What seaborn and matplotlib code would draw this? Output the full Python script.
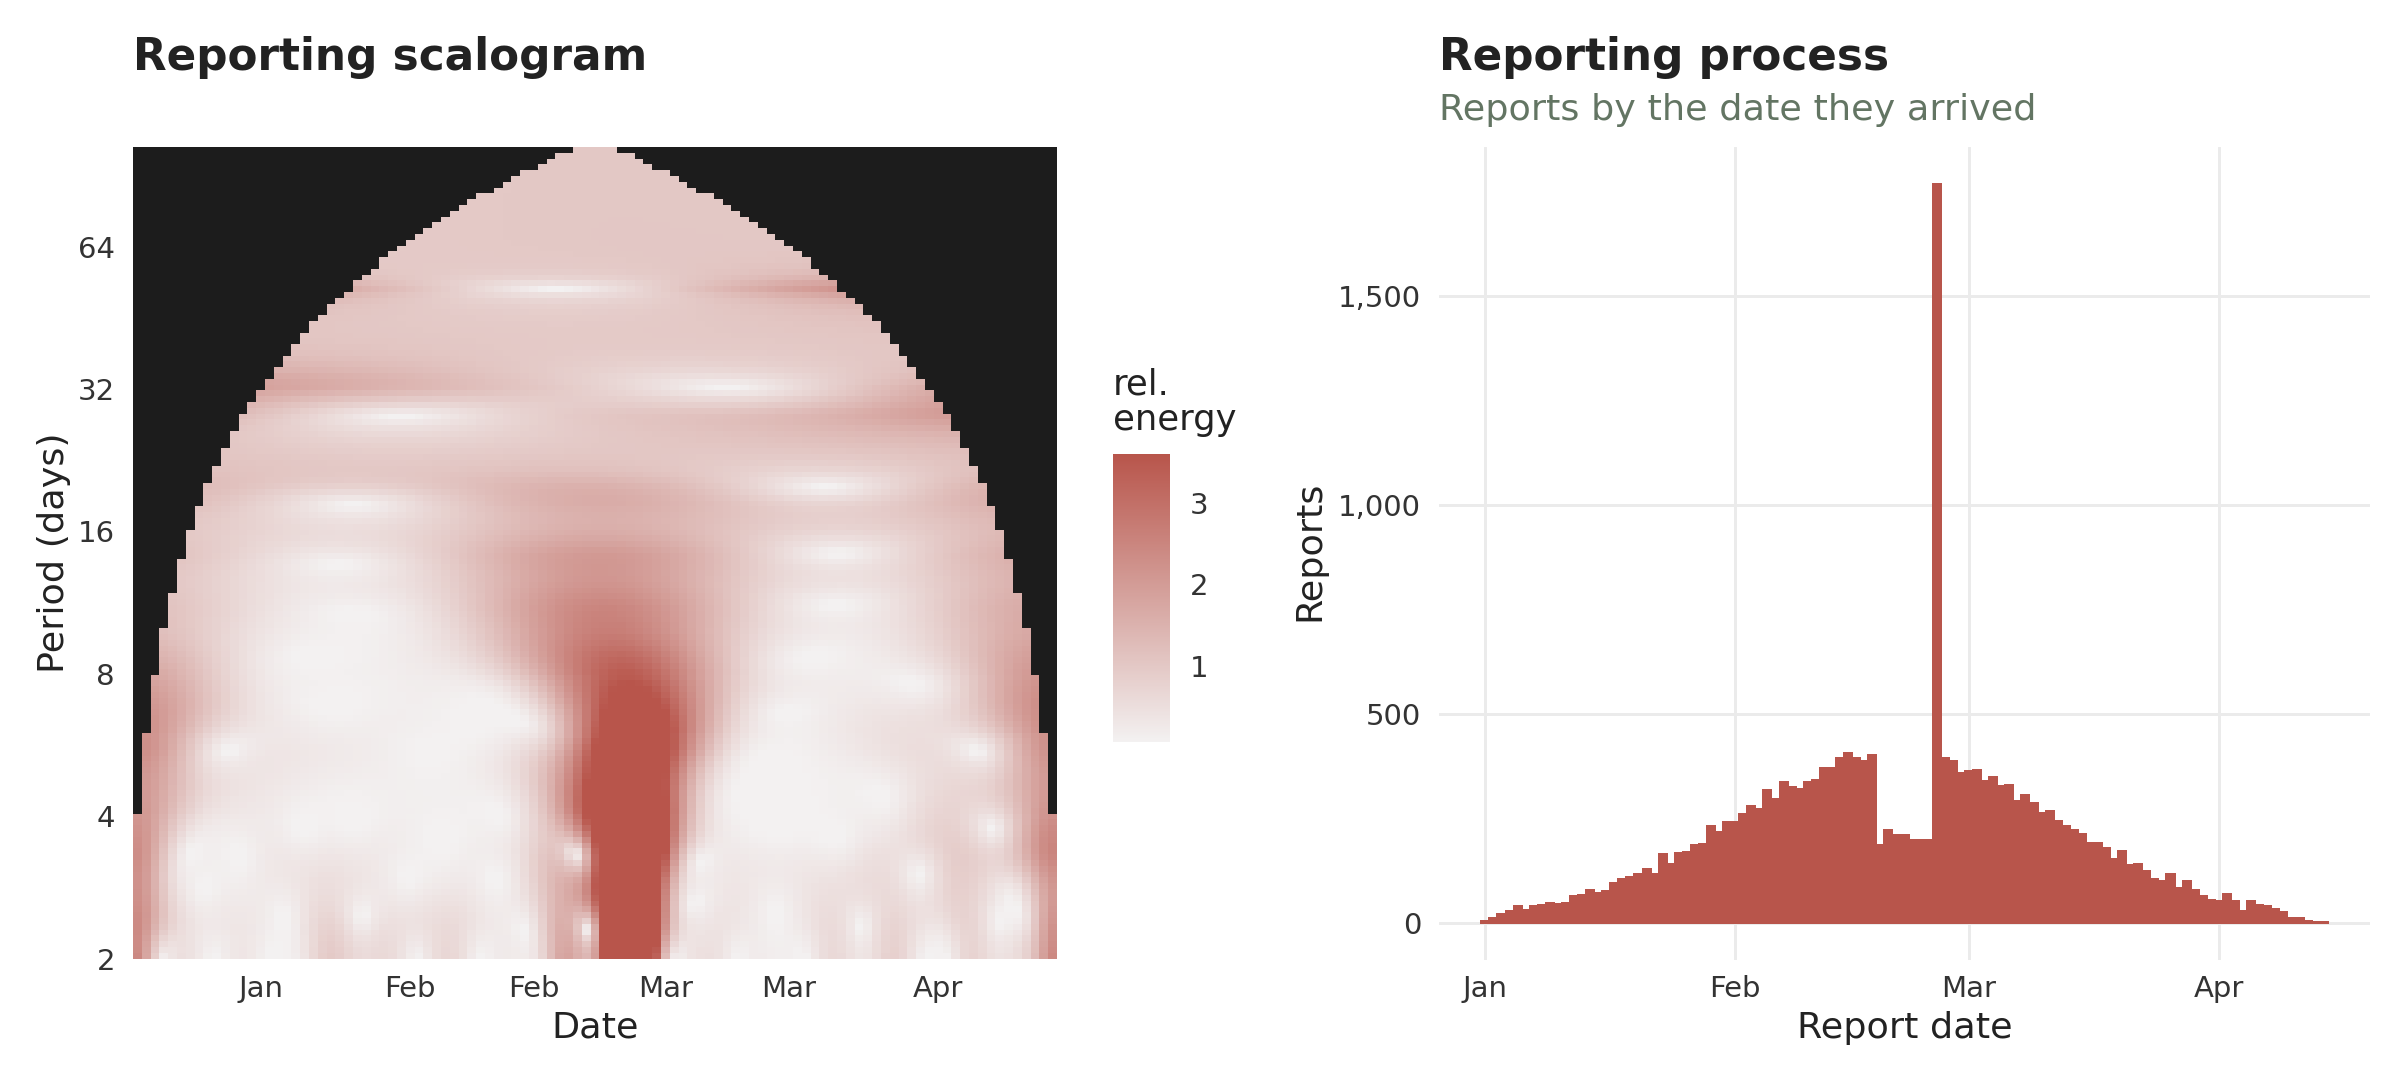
import numpy as np
import pandas as pd
import matplotlib
matplotlib.use('Agg')
import matplotlib.pyplot as plt
import seaborn as sns

# daily reports by arrival date, 2020-01-01 .. 2020-04-14
start_date = '2020-01-01'
reports = [4, 12, 22, 29, 41, 31, 41, 43, 48, 46,
           48, 65, 67, 79, 72, 77, 96, 106, 110, 118,
           130, 118, 166, 142, 168, 170, 187, 190, 233, 218,
           242, 242, 262, 281, 274, 319, 298, 338, 326, 322,
           338, 343, 370, 370, 396, 408, 396, 389, 403, 187,
           223, 211, 211, 199, 199, 199, 1769, 394, 389, 360,
           365, 367, 341, 350, 329, 331, 293, 307, 288, 264,
           269, 245, 233, 223, 214, 192, 192, 180, 154, 173,
           139, 142, 125, 106, 101, 118, 84, 101, 79, 65,
           55, 53, 70, 53, 29, 53, 43, 41, 34, 26,
           12, 12, 5, 2, 2]

scalogram_ticks = ['2020-01-15', '2020-02-01', '2020-02-15', '2020-03-01', '2020-03-15', '2020-04-01']
report_ticks = ['2020-01-01', '2020-02-01', '2020-03-01', '2020-04-01']
period_ticks = [2, 4, 8, 16, 32, 64]
count_ticks = [0, 500, 1000, 1500]
energy_ticks = [1, 2, 3]
energy_limits = (0.07, 3.6)

RED = '#b8554b'
DARK = '#1c1c1c'

dates = pd.date_range(start_date, periods=len(reports))
day = np.arange(len(reports))
N = len(reports)

# ---- scalogram: Morlet CWT of sqrt(reports), amplitude relative to each period's mean
p_min, p_max, n_rows = 2.0, 104.0, 140
w0 = 6.0
step = (np.log2(p_max) - np.log2(p_min)) / n_rows
log_p = np.log2(p_max) - (np.arange(n_rows) + 0.5) * step
periods = 2 ** log_p

x = np.sqrt(np.array(reports, float))
x = (x - x.mean()) / x.std()
amp = np.zeros((n_rows, N))
for i, p in enumerate(periods):
    s = p * (w0 + np.sqrt(2 + w0 ** 2)) / (4 * np.pi)
    u = (day[None, :] - day[:, None]) / s
    psi = np.exp(1j * w0 * u) * np.exp(-u ** 2 / 2) / np.sqrt(s)
    amp[i] = np.abs(psi @ x)

# cone of influence: periods longer than 2 * (days to edge + 2) are blacked out
edge_dist = np.minimum(day, N - 1 - day)
coi = 2 * (edge_dist + 2)
outside = periods[:, None] > coi[None, :]
amp[outside] = np.nan
rel_energy = amp / np.nanmean(amp, axis=1, keepdims=True)

sns.set_style('white')
plt.rcParams['font.family'] = ['DejaVu Sans']
plt.rcParams['text.color'] = '#222222'

fig = plt.figure(figsize=(16, 7.2), dpi=150)
W, H = 2400, 1080
ax_heat = fig.add_axes([133 / W, (H - 958.6) / H, 924 / W, 811.6 / H])
cax = fig.add_axes([1112.7 / W, (H - 741.7) / H, 57.6 / W, 287.7 / H])
ax_bar = fig.add_axes([1439 / W, (H - 960) / H, 931 / W, 813 / H])

cmap = matplotlib.colors.LinearSegmentedColormap.from_list('rel', ['#f3f1f1', RED])
ax_heat.set_facecolor(DARK)
sns.heatmap(rel_energy, ax=ax_heat, cmap=cmap, vmin=energy_limits[0], vmax=energy_limits[1],
            cbar_ax=cax, xticklabels=False, yticklabels=False)

tick_days = [(pd.Timestamp(d) - dates[0]).days for d in scalogram_ticks]
ax_heat.set_xticks([d + 0.5 for d in tick_days])
ax_heat.set_xticklabels([pd.Timestamp(d).strftime('%b') for d in scalogram_ticks], rotation=0)
ax_heat.set_yticks([(np.log2(p_max) - np.log2(p)) / step for p in period_ticks])
ax_heat.set_yticklabels([str(p) for p in period_ticks], rotation=0)
ax_heat.tick_params(axis='both', length=0, labelsize=14, labelcolor='#333333')
ax_heat.tick_params(axis='y', pad=8.6)
ax_heat.tick_params(axis='x', pad=7.9)
ax_heat.set_xlabel('Date', fontsize=17.5, color='#222222', va='baseline')
ax_heat.xaxis.set_label_coords(0.5, -0.0978)
ax_heat.set_ylabel('Period (days)', fontsize=17.5, color='#222222', va='center')
ax_heat.yaxis.set_label_coords(-0.086, 0.5)

cbar = ax_heat.collections[0].colorbar
cbar.outline.set_visible(False)
cbar.set_ticks(energy_ticks)
cax.tick_params(direction='in', color='white', width=1.2, length=5.6, left=True, right=True,
                labelleft=False, labelright=True, labelsize=14, labelcolor='#333333', pad=9.5)
cax.text(0, 1.059, 'rel.\nenergy', transform=cax.transAxes, ha='left', va='bottom',
         fontsize=17, linespacing=1.05, color='#222222')

# ---- reporting process
sns.histplot(x=day, weights=reports, discrete=True, color=RED, alpha=1,
             edgecolor=RED, linewidth=0.9, ax=ax_bar)
for bar in ax_bar.patches:
    bar.set_antialiased(False)
lo, hi = -0.5, N - 0.5
ax_bar.set_xlim(lo - 0.05 * (hi - lo), hi + 0.05 * (hi - lo))
top = max(reports)
ax_bar.set_ylim(-0.05 * top, top * 1.05)
ax_bar.set_xticks([(pd.Timestamp(d) - dates[0]).days for d in report_ticks])
ax_bar.set_xticklabels([pd.Timestamp(d).strftime('%b') for d in report_ticks])
ax_bar.set_yticks(count_ticks)
ax_bar.set_yticklabels([f'{v:,}' for v in count_ticks])
ax_bar.grid(True, color='#ebebeb', linewidth=1.4)
ax_bar.set_axisbelow(True)
sns.despine(ax=ax_bar, left=True, bottom=True)
ax_bar.tick_params(axis='both', length=0, labelsize=14, labelcolor='#333333')
ax_bar.tick_params(axis='y', pad=8.6)
ax_bar.tick_params(axis='x', pad=7.2)
ax_bar.set_xlabel('Report date', fontsize=17.5, color='#222222', va='baseline')
ax_bar.xaxis.set_label_coords(0.5, -0.0959)
ax_bar.set_ylabel('Reports', fontsize=17.5, color='#222222', va='center')
ax_bar.yaxis.set_label_coords(-0.1396, 0.503)

fig.text(133 / W, 1 - 70 / H, 'Reporting scalogram', fontsize=21, fontweight='bold',
         va='baseline', color='#222222')
fig.text(1439 / W, 1 - 70 / H, 'Reporting process', fontsize=21, fontweight='bold',
         va='baseline', color='#222222')
fig.text(1439 / W, 1 - 120 / H, 'Reports by the date they arrived', fontsize=17.5,
         va='baseline', color='#637563')

fig.savefig('out.png', dpi=150)
